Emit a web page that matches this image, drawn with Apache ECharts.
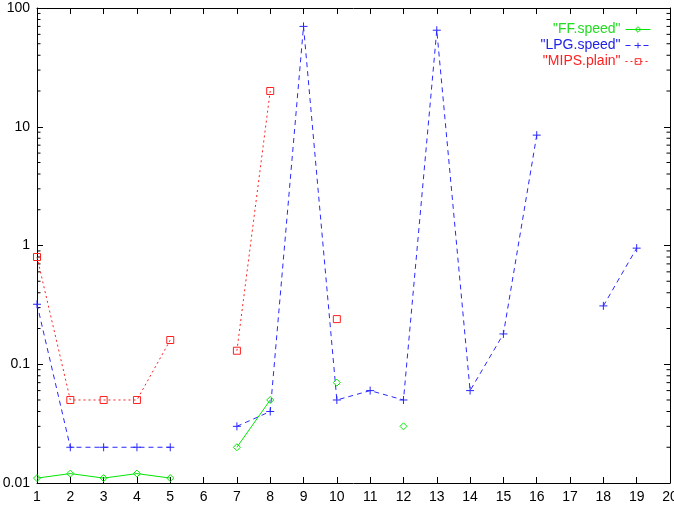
<!DOCTYPE html>
<html>
<head>
<meta charset="utf-8">
<script src="https://cdn.jsdelivr.net/npm/echarts@6/dist/echarts.min.js"></script>
<style>html,body{margin:0;padding:0;background:#fff}#c{width:674px;height:505px}</style>
</head>
<body>
<div id="c"></div>
<script>
const xValues = [1,2,3,4,5,6,7,8,9,10,11,12,13,14,15,16,17,18,19];
const ffSpeed   = [0.011,0.012,0.011,0.012,0.011,null,0.02,0.05,null,0.07,null,0.03,null,null,null,null,null,null,null];
const lpgSpeed  = [0.32,0.02,0.02,0.02,0.02,null,0.03,0.04,70,0.05,0.06,0.05,65,0.06,0.18,8.5,null,0.31,0.95];
const mipsPlain = [0.8,0.05,0.05,0.05,0.16,null,0.13,20,null,0.24,null,null,null,null,null,null,null,null,null];
const seriesNames = ['"FF.speed"','"LPG.speed"','"MIPS.plain"'];
const yTickLabels = ['0.01','0.1','1','10','100'];
const minorTickValues = [0.02,0.03,0.04,0.05,0.06,0.07,0.08,0.09,
  0.2,0.3,0.4,0.5,0.6,0.7,0.8,0.9, 2,3,4,5,6,7,8,9, 20,30,40,50,60,70,80,90];

const colors = ['#00e600','#2828ff','#ff2020'];
const textColors = ['#22dd22','#2020e8','#ff2020'];
const dashTypes = ['solid',[5,4],[2,3]];
const font = 'Liberation Sans, Arial, sans-serif';

function pairs(arr){ return xValues.map((x,i)=>[x, arr[i]]); }

const chart = echarts.init(document.getElementById('c'));
const axisLine = {show:true, lineStyle:{color:'#000', width:1}};
const tick = {show:true, inside:true, length:6, lineStyle:{color:'#000'}};
const sym = (c)=>({color:'rgba(255,255,255,0)', borderColor:c, borderWidth:1});
chart.setOption({
  animation:false,
  grid:{left:37, right:4, top:8, bottom:22, containLabel:false, outerBoundsMode:'none'},
  legend:{
    orient:'vertical', right:18, top:17, align:'right',
    itemWidth:25, itemHeight:7, itemGap:1,
    textStyle:{fontFamily:font, fontSize:14, lineHeight:15},
    data:seriesNames.map((n,i)=>({name:n, textStyle:{color:textColors[i]}, itemStyle:sym(colors[i]),
      lineStyle:{color:colors[i], width:1, type:dashTypes[i]}}))
  },
  xAxis:[
    {type:'value', min:1, max:20, interval:1, position:'bottom',
     axisLine, axisTick:tick, splitLine:{show:false},
     axisLabel:{color:'#000', fontFamily:font, fontSize:14, margin:7}},
    {type:'value', min:1, max:20, interval:1, position:'top',
     axisLine, axisTick:tick, splitLine:{show:false}, axisLabel:{show:false}}
  ],
  yAxis:[
    {type:'log', logBase:10, min:0.01, max:100, position:'left',
     axisLine, axisTick:tick, splitLine:{show:false},
     axisLabel:{color:'#000', fontFamily:font, fontSize:14, margin:7,
       formatter:(v)=>{const i=Math.round(Math.log10(v))+2; return yTickLabels[i]!==undefined?yTickLabels[i]:'';}}},
    {type:'log', logBase:10, min:0.01, max:100, position:'right',
     axisLine, axisTick:tick, splitLine:{show:false}, axisLabel:{show:false}}
  ],
  series:[
    {name:seriesNames[0], type:'line', data:pairs(ffSpeed), connectNulls:false,
     symbol:'path://M5,0L10,5L5,10L0,5Z', symbolSize:7, showAllSymbol:true,
     lineStyle:{color:colors[0], width:1, type:dashTypes[0]}, itemStyle:sym(colors[0])},
    {name:seriesNames[1], type:'line', data:pairs(lpgSpeed), connectNulls:false,
     symbol:'path://M0,5L10,5M5,0L5,10', symbolSize:8, showAllSymbol:true,
     lineStyle:{color:colors[1], width:1, type:dashTypes[1]}, itemStyle:sym(colors[1])},
    {name:seriesNames[2], type:'line', data:pairs(mipsPlain), connectNulls:false,
     symbol:'path://M0,0L10,0L10,10L0,10Z', symbolSize:7, showAllSymbol:true,
     lineStyle:{color:colors[2], width:1, type:dashTypes[2]}, itemStyle:sym(colors[2])},
    {type:'custom', silent:true, legendHoverLink:false, clip:false,
     data:minorTickValues.map(v=>[1,v]),
     renderItem:(params, api)=>{
       const v = api.value(1);
       const pl = api.coord([1, v]);
       const pr = api.coord([20, v]);
       return {type:'group', children:[
         {type:'line', shape:{x1:pl[0], y1:pl[1], x2:pl[0]+3.5, y2:pl[1]}, style:{stroke:'#000', lineWidth:1}},
         {type:'line', shape:{x1:pr[0], y1:pr[1], x2:pr[0]-3.5, y2:pr[1]}, style:{stroke:'#000', lineWidth:1}}
       ]};
     }}
  ]
});
</script>
</body>
</html>
